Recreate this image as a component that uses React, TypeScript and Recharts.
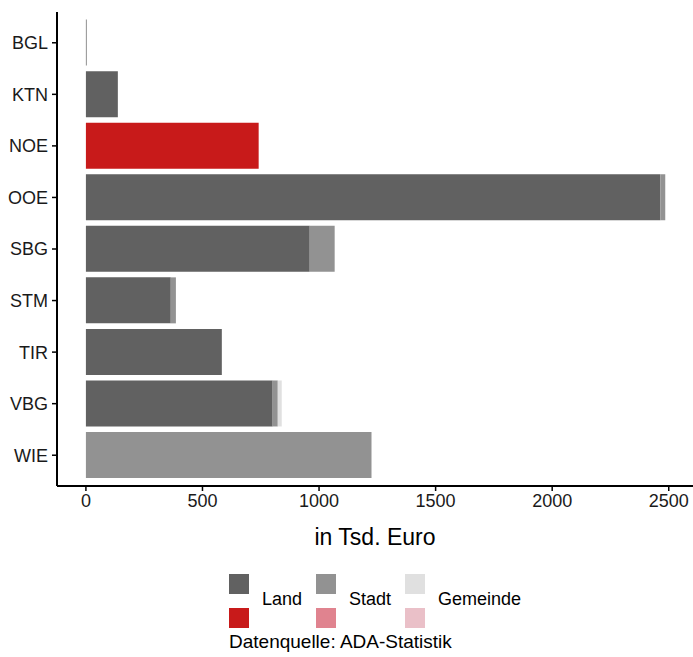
import { BarChart, Bar, XAxis, YAxis, Cell, Label } from 'recharts';

const regions = ['BGL', 'KTN', 'NOE', 'OOE', 'SBG', 'STM', 'TIR', 'VBG', 'WIE'];
const land = [3, 137, 741, 2464, 960, 364, 583, 801, 0];
const stadt = [0, 0, 0, 21, 107, 22, 0, 22, 1225];
const gemeinde = [0, 0, 0, 0, 0, 0, 0, 17, 0];
const highlight = 'NOE';
const xTicks = [0, 500, 1000, 1500, 2000, 2500];

const grey = { land: '#616161', stadt: '#929292', gemeinde: '#e0e0e0' };
const red = { land: '#c81a1a', stadt: '#e0838f', gemeinde: '#eac0c8' };

const data = regions.map((region, i) => ({
  region,
  land: land[i],
  stadt: stadt[i],
  gemeinde: gemeinde[i],
}));

const font = '"Liberation Sans", Arial, sans-serif';
const tickStyle = { fill: '#1a1a1a', fontSize: 18, fontFamily: font };

type Key = 'land' | 'stadt' | 'gemeinde';

function Swatch({ x, y, color }: { x: number; y: number; color: string }) {
  return <div style={{ position: 'absolute', left: x, top: y, width: 20, height: 20, background: color }} />;
}

export default function App() {
  const keys: Key[] = ['land', 'stadt', 'gemeinde'];
  const labels = { land: 'Land', stadt: 'Stadt', gemeinde: 'Gemeinde' };
  const legendX = { land: 229, stadt: 316, gemeinde: 405 };
  return (
    <div style={{ position: 'absolute', left: 0, top: 0, width: 693, height: 657, background: '#fff', fontFamily: font }}>
      <BarChart
        width={693}
        height={560}
        data={data}
        layout="vertical"
        margin={{ top: 12, right: 0, left: 0, bottom: 0 }}
        barCategoryGap="5%"
      >
        <XAxis
          type="number"
          domain={[-124, 2604]}
          ticks={xTicks}
          allowDataOverflow
          height={74}
          tick={tickStyle}
          tickSize={5}
          tickMargin={3}
          axisLine={{ stroke: '#000', strokeWidth: 2 }}
          tickLine={{ stroke: '#000', strokeWidth: 1.5 }}
        >
          <Label
            value="in Tsd. Euro"
            position="insideBottom"
            offset={15}
            style={{ fill: '#000', fontSize: 23, fontFamily: font }}
          />
        </XAxis>
        <YAxis
          type="category"
          dataKey="region"
          width={57}
          padding={{ top: 5, bottom: 5 }}
          tick={tickStyle}
          tickSize={5}
          tickMargin={4}
          axisLine={{ stroke: '#000', strokeWidth: 2 }}
          tickLine={{ stroke: '#000', strokeWidth: 1.5 }}
        />
        {keys.map((k) => (
          <Bar key={k} dataKey={k} stackId="a" isAnimationActive={false}>
            {data.map((d) => (
              <Cell key={d.region} fill={d.region === highlight ? red[k] : grey[k]} />
            ))}
          </Bar>
        ))}
      </BarChart>
      {keys.map((k) => (
        <div key={k}>
          <Swatch x={legendX[k]} y={574} color={grey[k]} />
          <Swatch x={legendX[k]} y={608} color={red[k]} />
          <div style={{ position: 'absolute', left: legendX[k] + 33, top: 589, fontSize: 18, lineHeight: '20px', color: '#000' }}>
            {labels[k]}
          </div>
        </div>
      ))}
      <div style={{ position: 'absolute', left: 229, top: 632, fontSize: 19, lineHeight: '20px', color: '#000' }}>
        Datenquelle: ADA-Statistik
      </div>
    </div>
  );
}
